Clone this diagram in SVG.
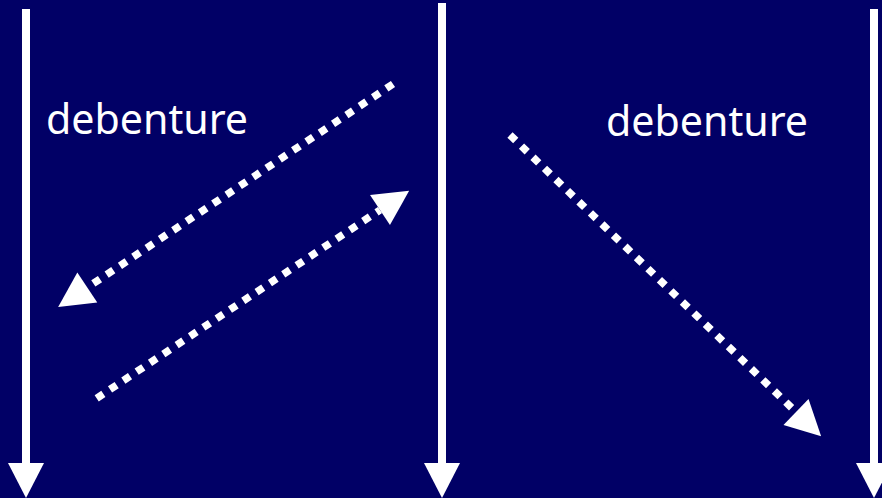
<svg xmlns="http://www.w3.org/2000/svg" width="882" height="498" viewBox="0 0 882 498">
<style>
.axis{stroke:#fff;stroke-width:8;fill:none}
.dot{stroke:#fff;stroke-width:7.5;stroke-dasharray:8 8;fill:none}
.lbl{font-family:"Noto Sans","DejaVu Sans",sans-serif;font-size:42px;fill:#fff}
</style>
<defs>
<marker id="head" markerUnits="userSpaceOnUse" markerWidth="36" markerHeight="36" viewBox="0 0 35 36" refX="0" refY="18" orient="auto" overflow="visible">
<path d="M0,0 L35,18 L0,36 Z" fill="#fff"/>
</marker>
</defs>
<rect width="882" height="498" fill="#010066"/>
<g id="timeline-left"><line class="axis" x1="26" y1="9" x2="26" y2="463" marker-end="url(#head)"/></g>
<g id="timeline-middle"><line class="axis" x1="442" y1="3" x2="442" y2="463" marker-end="url(#head)"/></g>
<g id="timeline-right"><line class="axis" x1="874" y1="9" x2="874" y2="463" marker-end="url(#head)"/></g>
<g id="label-left"><text class="lbl" x="46" y="134" textLength="202" lengthAdjust="spacingAndGlyphs">debenture</text></g>
<g id="label-right"><text class="lbl" x="606" y="136" textLength="202" lengthAdjust="spacingAndGlyphs">debenture</text></g>
<g id="connectors">
<line class="dot" x1="393" y1="84" x2="87.3" y2="287.5" marker-end="url(#head)"/>
<line class="dot" x1="96.7" y1="398.3" x2="380" y2="210" marker-end="url(#head)"/>
<line class="dot" x1="510" y1="135" x2="796" y2="412" marker-end="url(#head)"/>
</g>
</svg>
